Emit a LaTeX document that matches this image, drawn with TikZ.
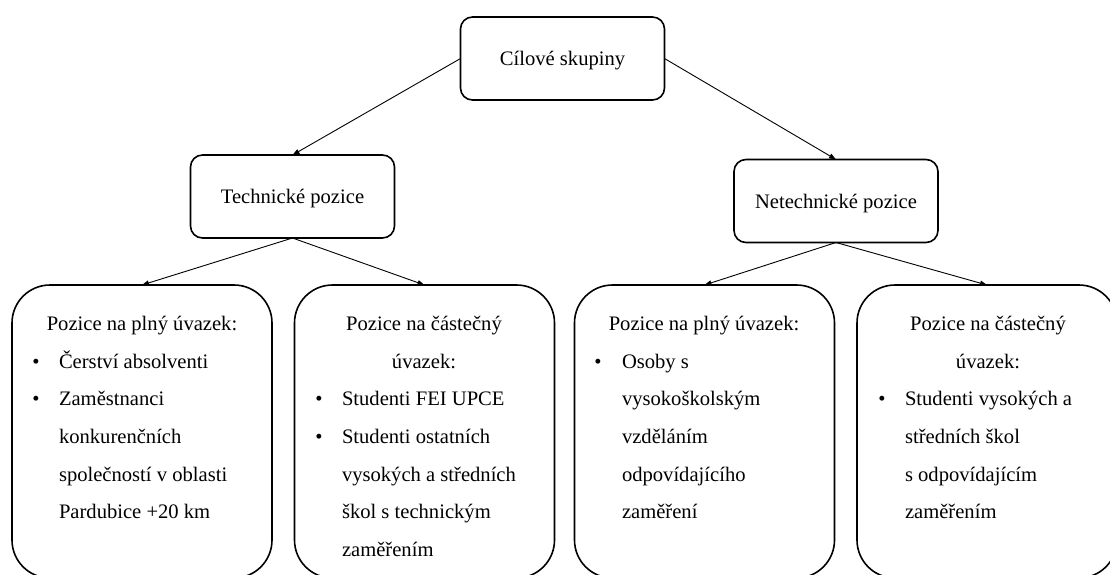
\documentclass[tikz,border=0pt]{standalone}
\usepackage{fontspec}
\setmainfont{Liberation Serif}
\usetikzlibrary{arrows.meta}
\begin{document}
\begin{tikzpicture}[x=1pt,y=-1pt,
  every node/.style={font=\fontsize{20.6}{24}\selectfont, inner sep=0pt, outer sep=0pt},
  topbox/.style={draw, line width=1.6pt, rounded corners=12pt, minimum width=204pt, minimum height=83pt, text depth=0pt},
  bigbox/.style={draw, line width=1.6pt, rounded corners=38pt, minimum width=260pt, minimum height=293pt},
  conn/.style={line width=0.9pt, -{Triangle[length=7pt,width=5pt]}},
  ttl/.style={anchor=base},
  itm/.style={anchor=base west},
  bul/.style={anchor=base}
]
\useasboundingbox (0,0) rectangle (1110,574);
\clip (0,0) rectangle (1110,574);
% upper boxes
\node[topbox] (root) at (562.5,58.5) {Cílové skupiny};
\node[topbox] (tech) at (292.5,196.5) {Technické pozice};
\node[topbox] (netech) at (836,201) {Netechnické pozice};
% lower boxes
\node[bigbox] (b1) at (142,431.5) {};
\node[bigbox] (b2) at (424.5,431.5) {};
\node[bigbox] (b3) at (704.5,431.5) {};
\node[bigbox] (b4) at (987,431.5) {};
% connectors
\draw[conn] (root.west) -- (tech.north);
\draw[conn] (root.east) -- (netech.north);
\draw[conn] (tech.south) -- (b1.north);
\draw[conn] (tech.south) -- (b2.north);
\draw[conn] (netech.south) -- (b3.north);
\draw[conn] (netech.south) -- (b4.north);
% box 1 text
\node[ttl] (a1) at (142,330) {Pozice na plný úvazek:};
\node[bul] (a2b) at (36,368) {•};
\node[itm] (a2) at (59,368) {Čerství absolventi};
\node[bul] (a3b) at (36,405.5) {•};
\node[itm] (a3) at (59,405.5) {Zaměstnanci};
\node[itm] (a4) at (59,443) {konkurenčních};
\node[itm] (a5) at (59,481) {společností v oblasti};
\node[itm] (a6) at (59,518.5) {Pardubice +20 km};
% box 2 text
\node[ttl] (c1) at (424,330) {Pozice na částečný};
\node[ttl] (c2) at (424,368) {úvazek:};
\node[bul] (c3b) at (319,405.5) {•};
\node[itm] (c3) at (342,405.5) {Studenti FEI UPCE};
\node[bul] (c4b) at (319,443) {•};
\node[itm] (c4) at (342,443) {Studenti ostatních};
\node[itm] (c5) at (342,481) {vysokých a středních};
\node[itm] (c6) at (342,518.5) {škol s technickým};
\node[itm] (c7) at (342,556) {zaměřením};
% box 3 text
\node[ttl] (d1) at (704,330) {Pozice na plný úvazek:};
\node[bul] (d2b) at (598,368) {•};
\node[itm] (d2) at (622,368) {Osoby s};
\node[itm] (d3) at (622,405.5) {vysokoškolským};
\node[itm] (d4) at (622,443) {vzděláním};
\node[itm] (d5) at (622,481) {odpovídajícího};
\node[itm] (d6) at (622,518.5) {zaměření};
% box 4 text
\node[ttl] (e1) at (988,330) {Pozice na částečný};
\node[ttl] (e2) at (988,368) {úvazek:};
\node[bul] (e3b) at (882,405.5) {•};
\node[itm] (e3) at (905,405.5) {Studenti vysokých a};
\node[itm] (e4) at (905,443) {středních škol};
\node[itm] (e5) at (905,481) {s odpovídajícím};
\node[itm] (e6) at (905,518.5) {zaměřením};
\end{tikzpicture}
\end{document}
